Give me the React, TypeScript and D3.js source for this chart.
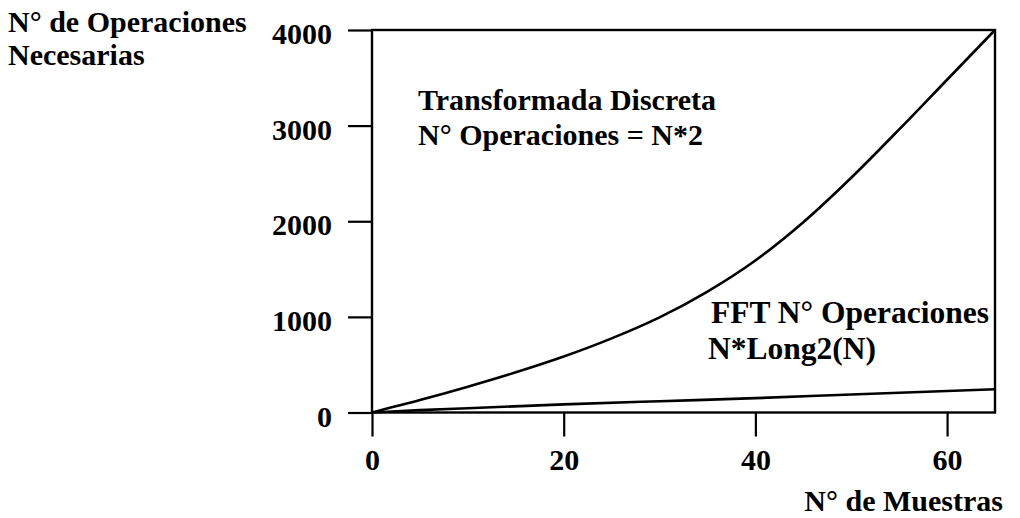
import {useEffect, useRef} from "react";
import * as d3 from 'd3'

// N de muestras (eje x) y operaciones
const muestras = [0, 5, 10, 15, 20, 25, 30, 35, 40, 45, 50, 55, 60, 65]
const opsDiscreta = [0, 130, 270, 420, 585, 775, 995, 1265, 1590, 1990, 2455, 2960, 3480, 4000]
const muestrasFft = [0, 5, 10, 20, 30, 40, 50, 65]
const opsFft = [0, 25, 45, 85, 118, 150, 188, 243]

const xTicks = [0, 20, 40, 60]
const yTicks = [0, 1000, 2000, 3000, 4000]

const FONT = '"Liberation Serif", "Times New Roman", serif'

const App = () => {
    const svgRef = useRef<SVGSVGElement>(null)

    useEffect(() => {
        const svg = d3.select(svgRef.current)
        svg.selectAll('*').remove()

        const x = d3.scaleLinear().domain([0, 65]).range([372, 995])
        const y = d3.scaleLinear().domain([0, 4000]).range([412.5, 30])

        const xAxis = d3.axisBottom(x).tickValues(xTicks).tickSize(24).tickPadding(12).tickFormat(d3.format('d'))
        const yAxis = d3.axisLeft(y).tickValues(yTicks).tickSize(24).tickPadding(16).tickFormat(d3.format('d'))

        const gx = svg.append('g').attr('transform', `translate(0,${y(0)})`).call(xAxis)
        const gy = svg.append('g').attr('transform', `translate(${x(0)},0)`).call(yAxis)

        for (const g of [gx, gy]) {
            g.select('.domain').remove()
            g.selectAll('line').attr('stroke', '#000').attr('stroke-width', 2.2)
            g.selectAll('text')
                .attr('fill', '#000')
                .style('font-family', FONT)
                .style('font-weight', 'bold')
                .style('font-size', '30px')
        }
        gy.selectAll('text').attr('dy', '0.45em')

        // marco
        svg.append('rect')
            .attr('x', x(0)).attr('y', y(4000))
            .attr('width', x(65) - x(0)).attr('height', y(0) - y(4000))
            .attr('fill', 'none').attr('stroke', '#000').attr('stroke-width', 2.4)

        const linea = d3.line<[number, number]>()
            .x(d => x(d[0]))
            .y(d => y(d[1]))
            .curve(d3.curveMonotoneX)

        svg.append('path')
            .datum(muestras.map((m, i) => [m, opsDiscreta[i]] as [number, number]))
            .attr('d', linea)
            .attr('fill', 'none').attr('stroke', '#000').attr('stroke-width', 2.6)

        svg.append('path')
            .datum(muestrasFft.map((m, i) => [m, opsFft[i]] as [number, number]))
            .attr('d', linea)
            .attr('fill', 'none').attr('stroke', '#000').attr('stroke-width', 2.6)

        const texto = (t: string, tx: number, ty: number, anchor = 'start', size = 30) =>
            svg.append('text')
                .attr('x', tx).attr('y', ty)
                .attr('text-anchor', anchor)
                .style('font-family', FONT)
                .style('font-weight', 'bold')
                .style('font-size', `${size}px`)
                .attr('fill', '#000')
                .text(t)

        texto('N° de Operaciones', 8, 32)
        texto('Necesarias', 8, 65)
        texto('Transformada Discreta', 418, 110)
        texto('N° Operaciones = N*2', 418, 145)
        texto('FFT N° Operaciones', 711, 323, 'start', 31.5)
        texto('N*Long2(N)', 708, 359, 'start', 31.5)
        texto('N° de Muestras', 1003, 511, 'end')
    }, [])

    return (
        <svg ref={svgRef} width={1020} height={518}
             style={{position: 'absolute', left: 0, top: 0, background: '#fff'}}/>
    )
}

export default App
